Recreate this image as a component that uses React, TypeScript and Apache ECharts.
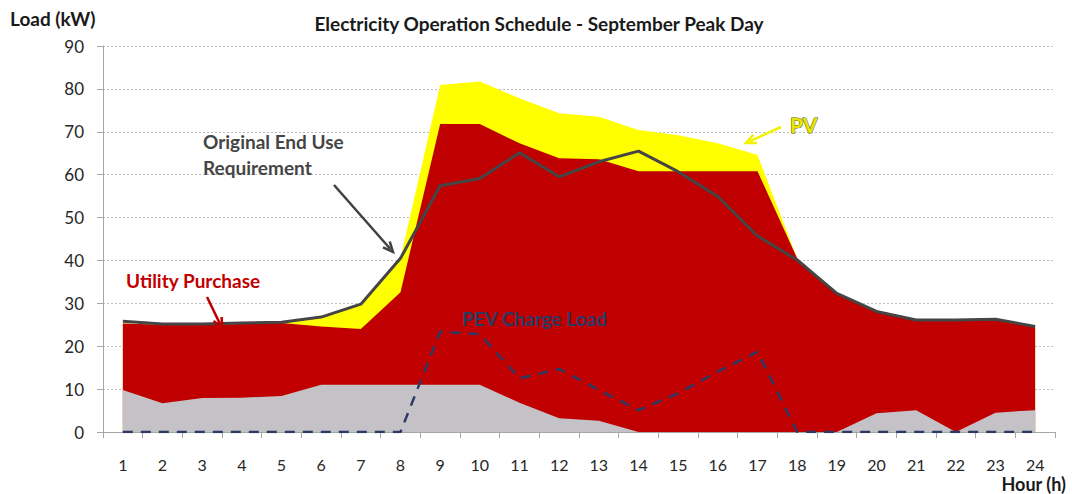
import React, { useEffect, useRef } from "react";
import * as echarts from "echarts";

const hours = ["1","2","3","4","5","6","7","8","9","10","11","12","13","14","15","16","17","18","19","20","21","22","23","24"];
const pvTotal = [25.3, 25.0, 25.0, 25.2, 25.4, 26.6, 29.6, 40.5, 80.9, 81.7, 77.8, 74.3, 73.5, 70.4, 69.2, 67.3, 64.6, 40.5, 32.3, 28.1, 26.1, 26.1, 26.3, 24.6];
const utilityPurchase = [25.3, 25.0, 25.0, 25.2, 25.4, 24.6, 24.0, 32.6, 71.8, 71.8, 67.3, 63.8, 63.6, 60.8, 60.8, 60.8, 60.8, 40.5, 32.3, 28.1, 26.1, 26.1, 26.3, 24.6];
const baseLoad = [9.8, 6.7, 7.9, 8.0, 8.4, 11.0, 11.0, 11.0, 11.0, 11.0, 6.8, 3.2, 2.6, 0, 0, 0, 0, 0, 0, 4.4, 5.1, 0, 4.5, 5.1];
const originalEndUse = [25.8, 25.2, 25.2, 25.4, 25.6, 26.8, 29.8, 40.5, 57.4, 59.1, 65.1, 59.5, 63.0, 65.5, 60.7, 54.9, 45.7, 40.1, 32.3, 28.1, 26.1, 26.1, 26.3, 24.6];
const pevCharge = [0, 0, 0, 0, 0, 0, 0, 0, 23.4, 22.8, 12.5, 14.7, 9.8, 5.1, 9.0, 14.1, 18.7, 0, 0, 0, 0, 0, 0, 0];
const yTicks = [0, 10, 20, 30, 40, 50, 60, 70, 80, 90];

const FONT = "Lato";

function arrow(x1: number, y1: number, x2: number, y2: number, color: string, w: number) {
  const ang = Math.atan2(y2 - y1, x2 - x1);
  const len = 11;
  const spread = 0.42;
  const p1 = [x2 - len * Math.cos(ang - spread), y2 - len * Math.sin(ang - spread)];
  const p2 = [x2 - len * Math.cos(ang + spread), y2 - len * Math.sin(ang + spread)];
  return [
    { type: "line", shape: { x1, y1, x2: x2 - 4 * Math.cos(ang), y2: y2 - 4 * Math.sin(ang) }, style: { stroke: color, lineWidth: w }, z: 100 },
    { type: "polyline", shape: { points: [p1, [x2, y2], p2] }, style: { stroke: color, lineWidth: w, fill: null }, z: 100 },
  ];
}

function label(text: string, x: number, y: number, size: number, fill: string, align = "left", extra: any = {}) {
  return {
    type: "text", x, y, z: 100,
    style: { text, font: `bold ${size}px ${FONT}`, fill, align, verticalAlign: "middle", ...extra },
  };
}

export default function App() {
  const ref = useRef<HTMLDivElement>(null);
  useEffect(() => {
    if (!ref.current) return;
    const chart = echarts.init(ref.current, null, { renderer: "svg" });
    chart.setOption({
      animation: false,
      backgroundColor: "#ffffff",
      textStyle: { fontFamily: FONT },
      grid: { left: 103, right: 17, top: 46, bottom: 62, containLabel: false },
      xAxis: {
        type: "category",
        data: hours,
        boundaryGap: true,
        axisLine: { lineStyle: { color: "#A6A6A6", width: 1 } },
        axisTick: { show: true, length: 6, lineStyle: { color: "#A6A6A6" } },
        axisLabel: { fontFamily: FONT, fontSize: 16, color: "#262626", margin: 24 },
        splitLine: { show: false },
      },
      yAxis: {
        type: "value",
        min: 0,
        max: 90,
        interval: 10,
        axisLine: { show: true, lineStyle: { color: "#A6A6A6", width: 1 } },
        axisTick: { show: true, length: 6, lineStyle: { color: "#A6A6A6" } },
        axisLabel: {
          fontFamily: FONT, fontSize: 17, color: "#262626", margin: 19,
          formatter: (v: number) => (yTicks.indexOf(v) >= 0 ? String(v) : ""),
        },
        splitLine: { show: true, lineStyle: { color: "#BDBDBD", type: [2, 2], width: 1 } },
      },
      series: [
        {
          name: "PV", type: "line", data: pvTotal, symbol: "none",
          lineStyle: { width: 0 }, areaStyle: { color: "#FFFF00", opacity: 1 }, z: 2,
        },
        {
          name: "Utility Purchase", type: "line", data: utilityPurchase, symbol: "none",
          lineStyle: { width: 0 }, areaStyle: { color: "#C00000", opacity: 1 }, z: 3,
        },
        {
          name: "Base", type: "line", data: baseLoad, symbol: "none",
          lineStyle: { width: 0 }, areaStyle: { color: "#C4C2C7", opacity: 1 }, z: 4,
        },
        {
          name: "PEV Charge Load", type: "line", data: pevCharge, symbol: "none",
          lineStyle: { width: 2.5, color: "#2B3A63", type: [10, 8] }, z: 5,
        },
        {
          name: "Original End Use Requirement", type: "line", data: originalEndUse, symbol: "none",
          lineStyle: { width: 3, color: "#454545" }, z: 6,
        },
      ],
      graphic: [
        label("Electricity Operation Schedule - September Peak Day", 539, 23, 19, "#1a1a1a", "center"),
        label("Load (kW)", 10, 18, 19, "#1a1a1a"),
        label("Hour (h)", 1066, 484, 18, "#1a1a1a", "right"),
        label("Original End Use", 203, 141, 19, "#454545"),
        label("Requirement", 203, 167, 19, "#454545"),
        label("Utility Purchase", 126, 280, 19, "#C00000"),
        label("PEV Charge Load", 462, 318, 19, "#2B3A63"),
        label("PV", 790, 124, 21, "#E6E600", "left", { stroke: "#5C5C00", lineWidth: 1 }),
        ...arrow(334, 185, 393, 252, "#404040", 2.5),
        ...arrow(207, 297, 222, 328, "#C00000", 2.5),
        ...arrow(781, 127, 746, 143, "#F2F200", 2.5),
      ],
    });
    return () => chart.dispose();
  }, []);
  return <div ref={ref} style={{ position: "fixed", left: 0, top: 0, width: 1072, height: 494 }} />;
}
